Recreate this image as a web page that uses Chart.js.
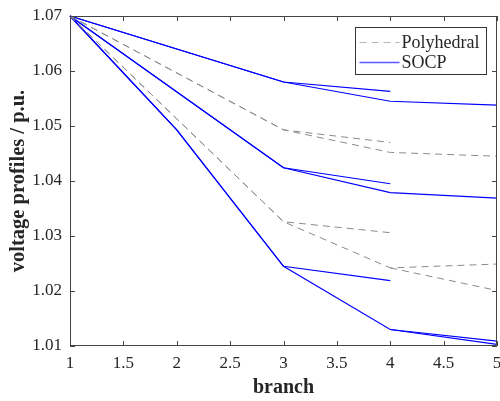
<!DOCTYPE html>
<html>
<head>
<meta charset="utf-8">
<script src="https://cdn.jsdelivr.net/npm/chart.js@4.4.0/dist/chart.umd.min.js"></script>
<style>
  html, body { margin: 0; padding: 0; background: #fff; }
</style>
</head>
<body>
<canvas id="chart" width="500" height="401"></canvas>
<script>
// branch positions along each feeder path
const pathShort = [1, 3, 4];
const pathLong = [1, 3, 4, 5];
const pathShortKink = [1, 2, 3, 4];
const pathLongKink = [1, 2, 3, 4, 5];
const pathTail = [4, 5];

// SOCP voltage profiles (p.u.)
const socpUpperA = [1.07, 1.0580, 1.0563];
const socpUpperB = [1.07, 1.0580, 1.0545, 1.0538];
const socpMidA = [1.07, 1.0424, 1.0395];
const socpMidB = [1.07, 1.0424, 1.0379, 1.0369];
const socpLowA = [1.07, 1.0493, 1.0245, 1.0219];
const socpLowB = [1.07, 1.0493, 1.0245, 1.0130, 1.0109];
const socpLowTail = [1.0130, 1.0103];

// Polyhedral voltage profiles (p.u.)
const polyUpperA = [1.07, 1.0493, 1.0470];
const polyUpperB = [1.07, 1.0493, 1.0452, 1.0445];
const polyLowA = [1.07, 1.0326, 1.0306];
const polyLowB = [1.07, 1.0326, 1.0242, 1.0249];
const polyLowTail = [1.0242, 1.0201];

const xTicks = [1, 1.5, 2, 2.5, 3, 3.5, 4, 4.5, 5];
const yTicks = [1.01, 1.02, 1.03, 1.04, 1.05, 1.06, 1.07];
const legendLabels = ['Polyhedral', 'SOCP'];

const SERIF = '"Liberation Serif", "Times New Roman", serif';
const AXIS_COLOR = '#262626';
const BLUE = '#0000ff';
const GREY = '#8a8a8a';

Chart.defaults.font.family = SERIF;
Chart.defaults.font.size = 17;
Chart.defaults.color = AXIS_COLOR;

const toPoints = (xs, ys) => xs.map((x, i) => ({ x: x, y: ys[i] }));

const polyLine = (xs, ys) => ({
    label: legendLabels[0],
    data: toPoints(xs, ys),
    borderColor: GREY,
    borderWidth: 1,
    borderDash: [7, 5],
    pointRadius: 0,
    fill: false,
    tension: 0,
    clip: 3
});

const socpLine = (xs, ys) => ({
    label: legendLabels[1],
    data: toPoints(xs, ys),
    borderColor: BLUE,
    borderWidth: 1.2,
    pointRadius: 0,
    fill: false,
    tension: 0,
    clip: 3
});

const datasets = [
    polyLine(pathShort, polyUpperA),
    polyLine(pathLong, polyUpperB),
    polyLine(pathShort, polyLowA),
    polyLine(pathLong, polyLowB),
    polyLine(pathTail, polyLowTail),
    socpLine(pathShort, socpUpperA),
    socpLine(pathLong, socpUpperB),
    socpLine(pathShort, socpMidA),
    socpLine(pathLong, socpMidB),
    socpLine(pathShortKink, socpLowA),
    socpLine(pathLongKink, socpLowB),
    socpLine(pathTail, socpLowTail)
];

// box around the axes with ticks pointing inwards on all four sides
const framePlugin = {
    id: 'frame',
    afterDatasetsDraw(chart) {
        const { ctx, chartArea: a, scales } = chart;
        const len = 5;
        ctx.save();
        ctx.strokeStyle = '#444';
        ctx.lineWidth = 1;
        ctx.beginPath();
        ctx.rect(Math.round(a.left) + 0.5, Math.round(a.top) + 0.5,
                 Math.round(a.width) - 1, Math.round(a.height) - 1);
        xTicks.forEach(v => {
            const px = Math.round(scales.x.getPixelForValue(v)) + 0.5;
            ctx.moveTo(px, a.bottom);
            ctx.lineTo(px, a.bottom - len);
            ctx.moveTo(px, a.top);
            ctx.lineTo(px, a.top + len);
        });
        yTicks.forEach(v => {
            const py = Math.round(scales.y.getPixelForValue(v)) + 0.5;
            ctx.moveTo(a.left, py);
            ctx.lineTo(a.left + len, py);
            ctx.moveTo(a.right, py);
            ctx.lineTo(a.right - len, py);
        });
        ctx.stroke();
        ctx.restore();
    }
};

// legend box in the upper right corner of the plot
const legendPlugin = {
    id: 'boxLegend',
    afterDraw(chart) {
        const { ctx, chartArea: a } = chart;
        const w = 131, h = 47;
        const x0 = Math.round(a.right) - 141.5;
        const y0 = Math.round(a.top) + 11.5;
        ctx.save();
        ctx.fillStyle = '#fff';
        ctx.fillRect(x0, y0, w, h);
        ctx.strokeStyle = '#333';
        ctx.lineWidth = 1;
        ctx.strokeRect(x0, y0, w, h);

        const rows = [
            { text: legendLabels[0], color: '#b4b4b4', dash: [7, 5], width: 1 },
            { text: legendLabels[1], color: '#5a5aff', dash: [], width: 1.4 }
        ];
        ctx.font = '18px ' + SERIF;
        ctx.textBaseline = 'middle';
        rows.forEach((r, i) => {
            const cy = y0 + 15 + i * 20;
            ctx.beginPath();
            ctx.setLineDash(r.dash);
            ctx.strokeStyle = r.color;
            ctx.lineWidth = r.width;
            ctx.moveTo(x0 + 4, cy);
            ctx.lineTo(x0 + 44, cy);
            ctx.stroke();
            ctx.setLineDash([]);
            ctx.fillStyle = AXIS_COLOR;
            ctx.fillText(r.text, x0 + 46, cy + 1);
        });
        ctx.restore();
    }
};

new Chart(document.getElementById('chart'), {
    type: 'line',
    data: { datasets: datasets },
    options: {
        responsive: false,
        animation: false,
        devicePixelRatio: 1,
        layout: { padding: { top: 16, right: 3, left: 0, bottom: 0 } },
        plugins: {
            legend: { display: false },
            tooltip: { enabled: false }
        },
        scales: {
            x: {
                type: 'linear',
                min: 1,
                max: 5,
                afterBuildTicks: (scale) => { scale.ticks = xTicks.map(v => ({ value: v })); },
                afterFit: (scale) => {
                    scale.height = 55;
                    scale.paddingLeft = 0;
                    scale.paddingRight = 0;
                },
                grid: { display: false, drawTicks: false },
                border: { display: false },
                ticks: {
                    color: AXIS_COLOR,
                    font: { family: SERIF, size: 17 },
                    padding: 7,
                    maxRotation: 0,
                    callback: (v) => String(v)
                },
                title: {
                    display: true,
                    text: 'branch',
                    color: AXIS_COLOR,
                    font: { family: SERIF, size: 20, weight: 'bold' },
                    padding: { top: 0, bottom: 1 }
                }
            },
            y: {
                type: 'linear',
                min: 1.01,
                max: 1.07,
                afterBuildTicks: (scale) => { scale.ticks = yTicks.map(v => ({ value: v })); },
                afterFit: (scale) => {
                    scale.width = 70;
                    scale.paddingTop = 0;
                    scale.paddingBottom = 0;
                },
                grid: { display: false, drawTicks: false },
                border: { display: false },
                ticks: {
                    color: AXIS_COLOR,
                    font: { family: SERIF, size: 17 },
                    padding: 8,
                    callback: (v) => v.toFixed(2)
                },
                title: {
                    display: true,
                    text: 'voltage profiles / p.u.',
                    color: AXIS_COLOR,
                    font: { family: SERIF, size: 20.5, weight: 'bold' },
                    padding: { top: 6, bottom: 0 }
                }
            }
        }
    },
    plugins: [framePlugin, legendPlugin]
});
</script>
</body>
</html>
